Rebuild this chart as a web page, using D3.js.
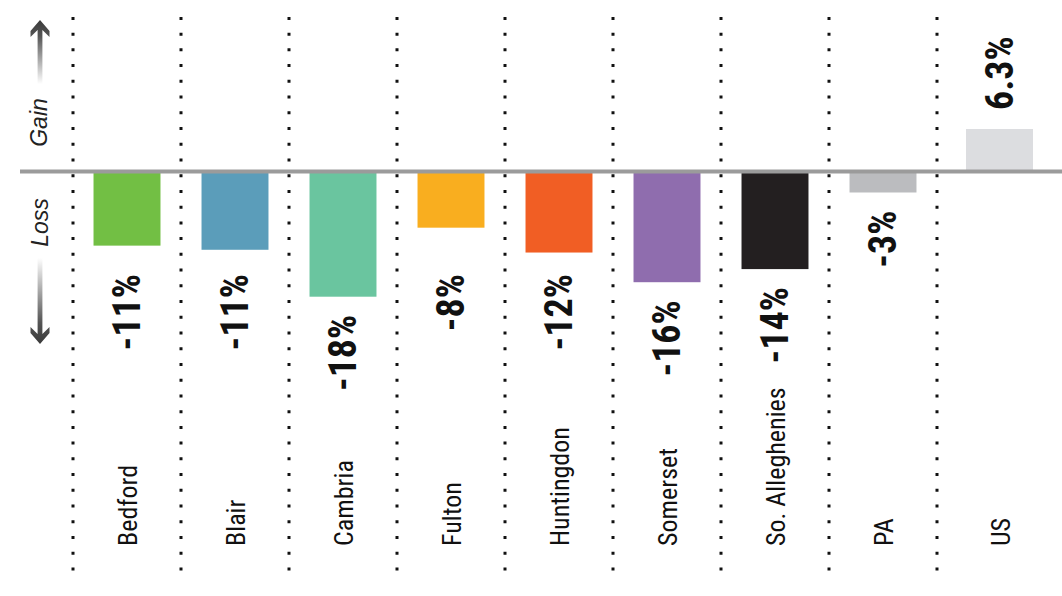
<!DOCTYPE html>
<html>
<head>
<meta charset="utf-8">
<script src="https://cdn.jsdelivr.net/npm/d3@7/dist/d3.min.js"></script>
<style>
  html, body { margin: 0; padding: 0; background: #fff; }
  svg { display: block; }
</style>
</head>
<body>
<svg id="chart" width="1062" height="596"></svg>
<script>
// ---- data ----
const categories = ["Bedford", "Blair", "Cambria", "Fulton", "Huntingdon", "Somerset", "So. Alleghenies", "PA", "US"];
const changes = [-10.6, -11.2, -18.0, -8.0, -11.6, -15.9, -14.0, -2.9, 6.3];
const valueLabels = ["-11%", "-11%", "-18%", "-8%", "-12%", "-16%", "-14%", "-3%", "6.3%"];
const groups = ["county", "county", "county", "county", "county", "county", "county", "state", "nation"];
const barColors = ["#72bf44", "#5b9dba", "#6ac59f", "#f9ae1f", "#f15e24", "#8f6dae", "#231f20", "#bbbcbf", "#dcdde0"];

// ---- layout ----
const W = 1062, H = 596;
const svg = d3.select("#chart");
const narrow = "'Liberation Sans Narrow', 'Roboto Condensed', 'DejaVu Sans Condensed', 'Liberation Sans', sans-serif";

const x = d3.scaleBand().domain(categories).range([73, 1045]).paddingInner(0).paddingOuter(0);
const y = d3.scaleLinear().domain([-18, 6.3]).range([296.7, 129]);
const barW = x.step() * 0.62;

function colLeft(d) { return x(d); }
function colRight(d, i) { return i < categories.length - 1 ? x(categories[i + 1]) : W; }
function colCenter(d, i) { return (colLeft(d) + colRight(d, i)) / 2; }

const data = categories.map((c, i) => ({ cat: c, v: changes[i], label: valueLabels[i], group: groups[i], color: barColors[i], i }));

// gradient defs for arrows
const defs = svg.append("defs");
const gUp = defs.append("linearGradient").attr("id", "gradUp").attr("x1", 0).attr("y1", 0).attr("x2", 0).attr("y2", 1);
gUp.append("stop").attr("offset", "0%").attr("stop-color", "#3a3a3a");
gUp.append("stop").attr("offset", "25%").attr("stop-color", "#555");
gUp.append("stop").attr("offset", "100%").attr("stop-color", "#fff");
const gDn = defs.append("linearGradient").attr("id", "gradDn").attr("x1", 0).attr("y1", 1).attr("x2", 0).attr("y2", 0);
gDn.append("stop").attr("offset", "0%").attr("stop-color", "#3a3a3a");
gDn.append("stop").attr("offset", "25%").attr("stop-color", "#555");
gDn.append("stop").attr("offset", "100%").attr("stop-color", "#fff");

// dotted column separators
svg.append("g").selectAll("line").data(categories).join("line")
  .attr("x1", d => x(d)).attr("x2", d => x(d))
  .attr("y1", 16.9).attr("y2", 571)
  .attr("stroke", "#111").attr("stroke-width", 3)
  .attr("stroke-dasharray", "3 12.73");

// bars
svg.append("g").selectAll("rect").data(data).join("rect")
  .attr("x", d => colCenter(d.cat, d.i) - barW / 2)
  .attr("width", barW)
  .attr("y", d => Math.min(y(0), y(d.v)))
  .attr("height", d => Math.abs(y(d.v) - y(0)))
  .attr("fill", d => d.color);

// zero baseline
svg.append("line")
  .attr("x1", 20).attr("x2", W)
  .attr("y1", y(0) - 1).attr("y2", y(0) - 1)
  .attr("stroke", "#9b9b9b").attr("stroke-width", 4);

// value labels
const labelRowTop = 274;
svg.append("g").selectAll("text").data(data).join("text")
  .attr("transform", d => {
    const cx = colCenter(d.cat, d.i) + 13;
    let yy;
    if (d.v >= 0) yy = y(d.v) - 19;
    else {
      yy = y(d.v) + 18;
      if (d.group === "county") yy = Math.max(yy, labelRowTop);
    }
    return `translate(${cx},${yy}) rotate(-90)`;
  })
  .attr("text-anchor", d => d.v >= 0 ? "start" : "end")
  .attr("font-family", narrow)
  .attr("font-weight", "bold")
  .attr("font-size", 38)
  .attr("fill", "#111")
  .text(d => d.label);

// category labels
svg.append("g").selectAll("text").data(data).join("text")
  .attr("transform", d => `translate(${colCenter(d.cat, d.i) + 10},546) rotate(-90)`)
  .attr("text-anchor", "start")
  .attr("font-family", narrow)
  .attr("font-size", 26)
  .attr("fill", "#111")
  .text(d => d.cat);

// Gain / Loss side labels
svg.append("text")
  .attr("transform", `translate(47,${y(0) - 50}) rotate(-90)`)
  .attr("text-anchor", "middle")
  .attr("font-family", "'Liberation Sans', Arial, sans-serif")
  .attr("font-style", "italic")
  .attr("font-size", 23)
  .attr("fill", "#222")
  .text("Gain");
svg.append("text")
  .attr("transform", `translate(48,${y(0) + 50}) rotate(-90)`)
  .attr("text-anchor", "middle")
  .attr("font-family", "'Liberation Sans', Arial, sans-serif")
  .attr("font-style", "italic")
  .attr("font-size", 23)
  .attr("fill", "#222")
  .text("Loss");

// arrows
const ax = 40;
function arrowPath(tipY, endY, dir) {
  // dir = -1 for up, +1 for down
  const p = d3.path();
  const hb = tipY - dir * 11;
  const wb = tipY - dir * 17;
  const nb = tipY - dir * 10;
  p.moveTo(ax, tipY);
  p.lineTo(ax + 9.5, hb);
  p.lineTo(ax + 9.5, wb);
  p.lineTo(ax + 2.4, nb);
  p.lineTo(ax + 2.4, endY);
  p.lineTo(ax - 2.4, endY);
  p.lineTo(ax - 2.4, nb);
  p.lineTo(ax - 9.5, wb);
  p.lineTo(ax - 9.5, hb);
  p.closePath();
  return p.toString();
}
svg.append("path").attr("d", arrowPath(20, 84, -1)).attr("fill", "url(#gradUp)");
svg.append("path").attr("d", arrowPath(344, 258, 1)).attr("fill", "url(#gradDn)");
</script>
</body>
</html>
